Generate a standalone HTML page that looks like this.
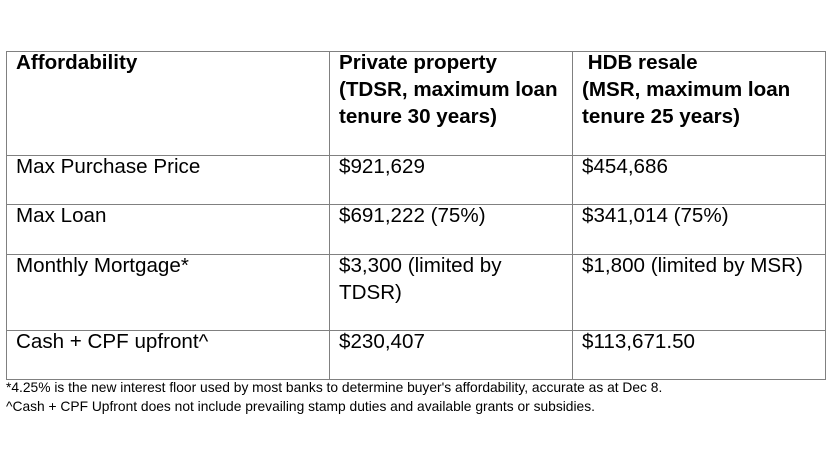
<!DOCTYPE html>
<html><head><style>
body{margin:0;width:830px;height:468px;background:#fff;position:relative;overflow:hidden;font-family:"Liberation Sans",Arial,sans-serif;color:#000}
.h{position:absolute;left:0;height:1.3px;background:#808080}
.v{position:absolute;top:51px;height:328px;width:1.3px;background:#808080}
.t{position:absolute;font-size:20.6px;line-height:27px;white-space:nowrap}
.b{font-weight:bold}
.f{position:absolute;left:6px;font-size:13.8px;line-height:19px;white-space:nowrap}
</style></head><body>
<div class="h" style="left:6px;width:820px;top:51px"></div>
<div class="h" style="left:6px;width:820px;top:155px"></div>
<div class="h" style="left:6px;width:820px;top:204px"></div>
<div class="h" style="left:6px;width:820px;top:254px"></div>
<div class="h" style="left:6px;width:820px;top:330px"></div>
<div class="h" style="left:6px;width:820px;top:379px"></div>
<div class="v" style="left:6px"></div>
<div class="v" style="left:329px"></div>
<div class="v" style="left:572px"></div>
<div class="v" style="left:825px"></div>

<div class="t b" style="left:16px;top:49px">Affordability</div>
<div class="t b" style="left:339px;top:49px">Private property<br>(TDSR, maximum loan<br>tenure 30 years)</div>
<div class="t b" style="left:582px;top:49px">&nbsp;HDB resale<br>(MSR, maximum loan<br>tenure 25 years)</div>

<div class="t" style="left:16px;top:153px">Max Purchase Price</div>
<div class="t" style="left:339px;top:153px">$921,629</div>
<div class="t" style="left:582px;top:153px">$454,686</div>

<div class="t" style="left:16px;top:202px">Max Loan</div>
<div class="t" style="left:339px;top:202px">$691,222 (75%)</div>
<div class="t" style="left:582px;top:202px">$341,014 (75%)</div>

<div class="t" style="left:16px;top:252px">Monthly Mortgage*</div>
<div class="t" style="left:339px;top:252px">$3,300 (limited by<br>TDSR)</div>
<div class="t" style="left:582px;top:252px">$1,800 (limited by MSR)</div>

<div class="t" style="left:16px;top:328px">Cash + CPF upfront^</div>
<div class="t" style="left:339px;top:328px">$230,407</div>
<div class="t" style="left:582px;top:328px">$113,671.50</div>

<div class="f" style="top:378px">*4.25% is the new interest floor used by most banks to determine buyer's affordability, accurate as at Dec 8.</div>
<div class="f" style="top:397px">^Cash + CPF Upfront does not include prevailing stamp duties and available grants or subsidies.</div>
</body></html>
